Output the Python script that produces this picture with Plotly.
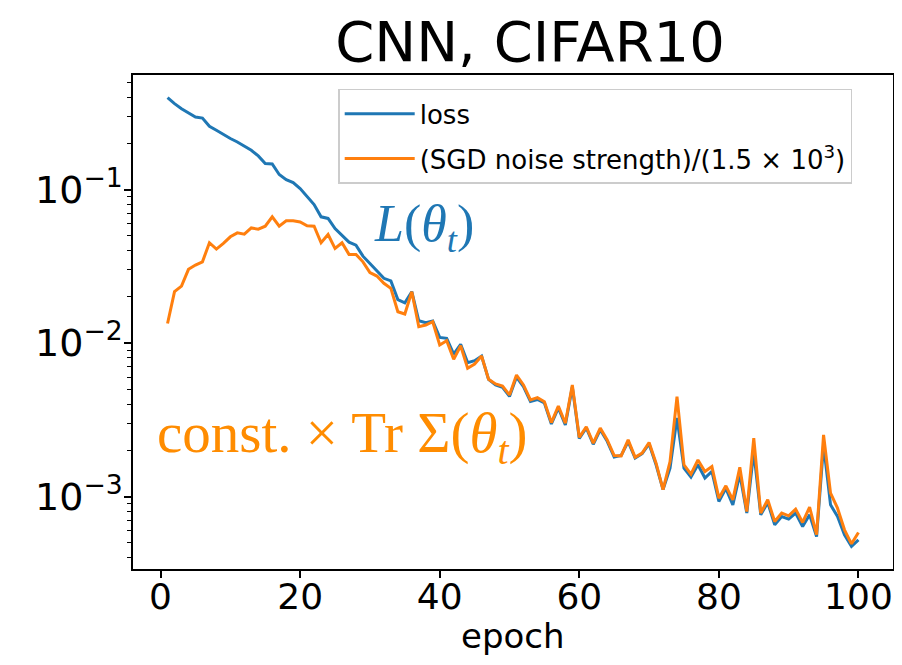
import plotly.graph_objects as go

# values, epochs 1..100
epoch = list(range(1, 101))

loss = [0.397, 0.3625, 0.336, 0.315, 0.297, 0.292, 0.258, 0.243, 0.228, 0.215,
        0.204, 0.191, 0.180, 0.1655, 0.1477, 0.1468, 0.1253, 0.116, 0.111, 0.1015,
        0.0895, 0.0798, 0.0664, 0.0648, 0.0557, 0.0499, 0.0454, 0.0434, 0.0368, 0.033,
        0.0294, 0.0264, 0.0254, 0.0192, 0.0183, 0.0216, 0.01396, 0.01355, 0.0139, 0.01088,
        0.01073, 0.00848, 0.0098, 0.00745, 0.00767, 0.00823, 0.0058, 0.00533, 0.00514, 0.00449,
        0.0060, 0.00521, 0.00416, 0.00429, 0.00407, 0.00297, 0.00378, 0.00293, 0.00518, 0.00239,
        0.0028, 0.00219, 0.00272, 0.00229, 0.00181, 0.00185, 0.00228, 0.00178, 0.0019, 0.0022,
        0.00161, 0.00111, 0.00153, 0.00325, 0.00153, 0.00134, 0.00161, 0.00132, 0.00146, 0.000928,
        0.00113, 0.000883, 0.0014, 0.00078, 0.00196, 0.00076, 0.000914, 0.000655, 0.000741, 0.000713,
        0.00078, 0.000638, 0.00076, 0.000549, 0.00217, 0.000883, 0.000741, 0.000564, 0.000473, 0.000522]

noise = [0.0134, 0.0216, 0.0235, 0.0302, 0.0322, 0.0338, 0.045, 0.0409, 0.0446, 0.0492,
         0.0522, 0.0512, 0.0562, 0.0552, 0.0577, 0.0664, 0.0577, 0.0625, 0.0625, 0.0615,
         0.058, 0.0577, 0.045, 0.0509, 0.0413, 0.045, 0.0378, 0.0378, 0.0338, 0.0288,
         0.0273, 0.0245, 0.0227, 0.016, 0.01545, 0.0216, 0.01276, 0.0131, 0.01377, 0.0097,
         0.01035, 0.00783, 0.0096, 0.00685, 0.0073, 0.00823, 0.0058, 0.00541, 0.00525, 0.00459,
         0.00619, 0.00533, 0.00426, 0.00441, 0.00415, 0.00303, 0.00389, 0.0030, 0.00533, 0.00243,
         0.00285, 0.00223, 0.00279, 0.00234, 0.00185, 0.00184, 0.00234, 0.0018, 0.00192, 0.00225,
         0.00165, 0.00111, 0.00169, 0.00447, 0.00161, 0.0014, 0.00173, 0.001455, 0.001567, 0.000976,
         0.001174, 0.000952, 0.00155, 0.000799, 0.0024, 0.00078, 0.000952, 0.000688, 0.00078, 0.000749,
         0.000828, 0.000678, 0.000853, 0.000564, 0.00252, 0.001052, 0.00084, 0.000607, 0.000492, 0.000583]

xticks = [0, 20, 40, 60, 80, 100]
yticks = [1e-3, 1e-2, 1e-1]
yticklabels = ["10<sup>\u22123</sup>", "10<sup>\u22122</sup>", "10<sup>\u22121</sup>"]
yminor = [m * 10.0 ** p for p in (-4, -3, -2, -1) for m in range(2, 10)]

fig = go.Figure()
fig.add_trace(go.Scatter(x=epoch, y=loss, mode="lines", name="loss",
                         legendgroup="a", line=dict(color="#1f77b4", width=3)))
fig.add_trace(go.Scatter(x=epoch, y=noise, mode="lines",
                         name="(SGD noise strength)/(1.5 \u00d7 10<sup>3</sup>)",
                         legendgroup="b", line=dict(color="#ff7f0e", width=3)))

fig.add_annotation(x=37.7, y=-1.25, xref="x", yref="y",
                   text="<i>L</i>(<i>\u03b8</i><sub><i>t</i></sub>)", showarrow=False,
                   font=dict(family="Liberation Serif", size=52, color="#1f77b4"))
fig.add_annotation(x=26, y=-2.61, xref="x", yref="y",
                   text="const. \u00d7 Tr \u03a3(<i>\u03b8</i><sub><i>t</i></sub>)", showarrow=False,
                   font=dict(family="Liberation Serif", size=57, color="#ff8c00"))
# x axis title placed by hand so the margins stay fixed
fig.add_annotation(x=0.5, y=-0.1356, xref="paper", yref="paper", text="epoch",
                   showarrow=False, yanchor="middle",
                   font=dict(family="DejaVu Sans", size=34, color="black"))

axis_style = dict(showline=True, linecolor="black", linewidth=1.5, mirror=True,
                  ticks="outside", ticklen=7, tickwidth=1.5, tickcolor="black",
                  showgrid=False, zeroline=False, automargin=False)

fig.update_xaxes(range=[-3.95, 104.95], tickvals=xticks, ticklabelstandoff=-12,
                 tickfont=dict(family="DejaVu Sans", size=36, color="black"), **axis_style)
fig.update_yaxes(type="log", range=[-3.472, -0.254], tickvals=yticks, ticktext=yticklabels,
                 ticklabelstandoff=-6,
                 tickfont=dict(family="DejaVu Sans", size=38, color="black"),
                 minor=dict(tickvals=yminor, ticks="outside", ticklen=4, tickwidth=1,
                            tickcolor="black", showgrid=False),
                 **axis_style)

# the page body has an 8px margin, so the figure is drawn 8px smaller and shifted
fig.update_layout(
    width=886, height=649,
    margin=dict(l=125, r=1, t=67, b=88),
    plot_bgcolor="white", paper_bgcolor="white",
    title=dict(text="CNN, CIFAR10", x=(530 - 8) / 886, xanchor="center",
               y=1 - 33 / 649, yanchor="middle",
               font=dict(family="DejaVu Sans", size=56, color="black")),
    legend=dict(x=0.27, y=0.972, xanchor="left", yanchor="top",
                bgcolor="rgba(255,255,255,0.8)", bordercolor="#cccccc", borderwidth=1.5,
                font=dict(family="DejaVu Sans", size=26, color="black"),
                tracegroupgap=8, itemwidth=70),
    showlegend=True,
)

fig.write_html("out.html")
